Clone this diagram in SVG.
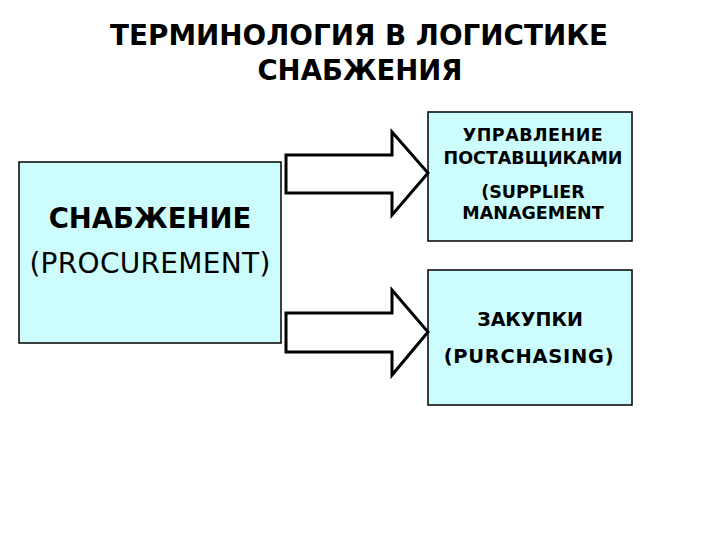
<svg xmlns="http://www.w3.org/2000/svg" width="720" height="540" viewBox="0 0 720 540">
<style>
.box{fill:#ccfcfc;stroke:#000;stroke-width:1.5}
.arrow{fill:#fff;stroke:#000;stroke-width:3;stroke-linejoin:miter}
text{font-family:"DejaVu Sans","Noto Sans",sans-serif;fill:#000;text-anchor:middle}
.b{font-weight:bold}
.s{font-size:17.5px;font-weight:bold}
</style>
<rect width="720" height="540" fill="#fff"/>
<g id="title">
<text class="b" x="359" y="45" font-size="27.8">ТЕРМИНОЛОГИЯ В ЛОГИСТИКЕ</text>
<text class="b" x="360" y="80" font-size="27.5">СНАБЖЕНИЯ</text>
</g>
<g id="procurement">
<rect class="box" x="19" y="162" width="262" height="181"/>
<text class="b" x="150" y="228" font-size="27.5">СНАБЖЕНИЕ</text>
<text x="150" y="273" font-size="28" letter-spacing="0.3">(PROCUREMENT)</text>
</g>
<g id="supplier-management">
<rect class="box" x="428" y="112" width="204" height="129"/>
<text class="s" x="533" y="141" letter-spacing="0.5">УПРАВЛЕНИЕ</text>
<text class="s" x="533" y="164">ПОСТАВЩИКАМИ</text>
<text class="s" x="533" y="198">(SUPPLIER</text>
<text class="s" x="533" y="219">MANAGEMENT</text>
</g>
<g id="purchasing">
<rect class="box" x="428" y="270" width="204" height="135"/>
<text class="b" x="530" y="326" font-size="19">ЗАКУПКИ</text>
<text class="b" x="529" y="363" font-size="19.5" letter-spacing="0.7">(PURCHASING)</text>
</g>
<g id="connectors">
<polygon class="arrow" points="286,155 392,155 392,132 428,173 392,215 392,193 286,193"/>
<polygon class="arrow" points="286,313 392,313 392,290 428,332 392,375 392,352 286,352"/>
</g>
</svg>
